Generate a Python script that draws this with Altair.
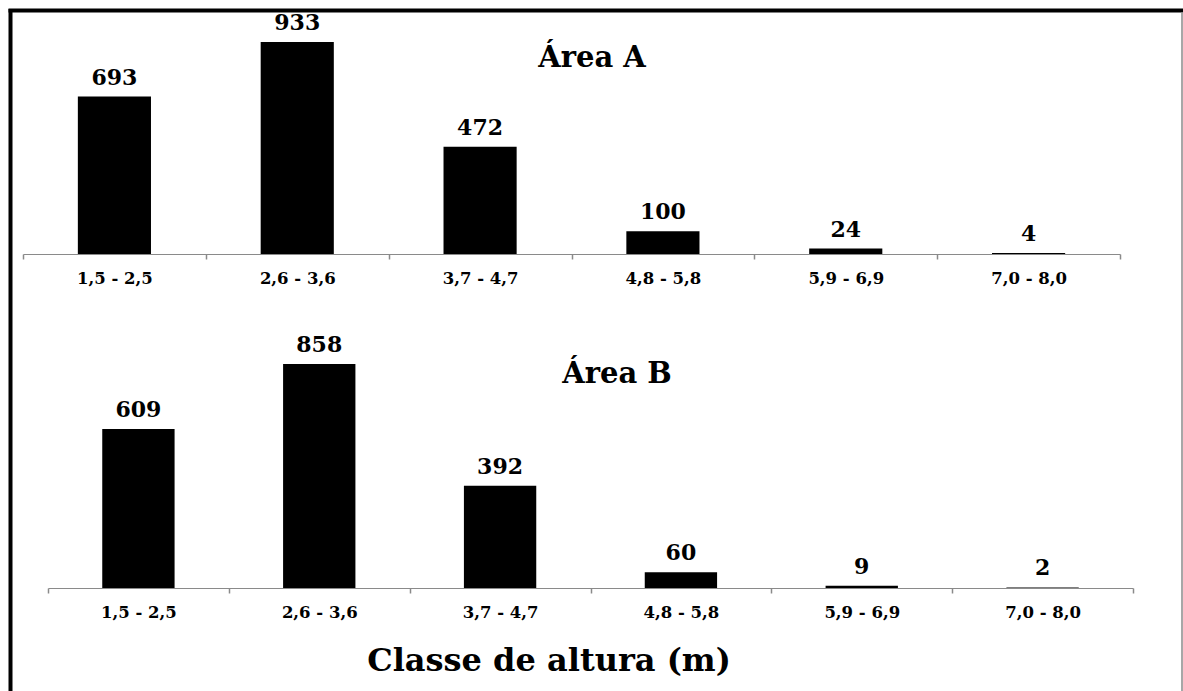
import altair as alt
import pandas as pd

# Height classes (m) and tree counts per area
classes = ["1,5 - 2,5", "2,6 - 3,6", "3,7 - 4,7", "4,8 - 5,8", "5,9 - 6,9", "7,0 - 8,0"]
area_a = [693, 933, 472, 100, 24, 4]
area_b = [609, 858, 392, 60, 9, 2]

W, H = 1183, 691
SERIF = "DejaVu Serif"
AXIS_GRAY = "#8a8a8a"


def panel(values, x_range, y_range, axis_offset):
    df = pd.DataFrame({"classe": classes, "n": values})
    # Bands fill the whole step so the extent ticks fall on the class boundaries;
    # the bars themselves take 40% of each band.
    x = alt.X(
        "classe:N",
        sort=classes,
        title=None,
        scale=alt.Scale(range=x_range, paddingInner=0, paddingOuter=0),
        axis=alt.Axis(
            orient="bottom",
            offset=axis_offset,
            tickBand="extent",
            ticks=True,
            grid=False,
            domainColor=AXIS_GRAY,
            domainWidth=1,
            tickColor=AXIS_GRAY,
            tickWidth=1.5,
            tickSize=5,
            labelAngle=0,
            labelFont=SERIF,
            labelFontWeight="bold",
            labelFontSize=16.5,
            labelColor="black",
            labelPadding=11,
        ),
    )
    y = alt.Y("n:Q", scale=alt.Scale(domain=[0, 1000], range=y_range, nice=False), axis=None)
    bars = alt.Chart(df).mark_bar(color="black", width=alt.RelativeBandSize(0.4)).encode(x=x, y=y)
    labels = alt.Chart(df).mark_text(
        baseline="alphabetic", dy=-12, font=SERIF, fontWeight="bold", fontSize=22, color="black"
    ).encode(x=x, y=y, text="n:Q")
    return alt.layer(bars, labels)


top = panel(area_a, [23, 1120], [254, 26.8], -(H - 254))
bottom = panel(area_b, [48, 1133], [588, 326.9], -(H - 588))


def caption(text, x, y, size):
    return alt.Chart(pd.DataFrame({"t": [text]})).mark_text(
        font=SERIF, fontWeight="bold", fontSize=size, color="black",
        align="center", baseline="alphabetic",
    ).encode(x=alt.value(x), y=alt.value(y), text="t:N")


title_a = caption("Área A", 592, 67, 29)
title_b = caption("Área B", 617, 383, 29)
x_title = caption("Classe de altura (m)", 549, 671, 32)

# Frame around the figure
frame_left = alt.Chart().mark_rule(color="black", strokeWidth=4).encode(
    x=alt.value(10.5), y=alt.value(9), y2=alt.value(H)
)
frame_top = alt.Chart().mark_rule(color="black", strokeWidth=4).encode(
    x=alt.value(8.5), x2=alt.value(W), y=alt.value(10.5)
)
frame_right = alt.Chart().mark_rule(color=AXIS_GRAY, strokeWidth=1.5).encode(
    x=alt.value(1182), y=alt.value(12), y2=alt.value(H)
)

chart = (
    alt.layer(top, bottom, title_a, title_b, x_title, frame_left, frame_top, frame_right)
    .resolve_scale(x="independent", y="independent")
    .properties(
        width=W,
        height=H,
        padding=0,
        autosize=alt.AutoSizeParams(type="none"),
        background="white",
    )
    .configure_view(stroke=None)
)

chart.save("out.html", embed_options={"renderer": "svg", "actions": False})
